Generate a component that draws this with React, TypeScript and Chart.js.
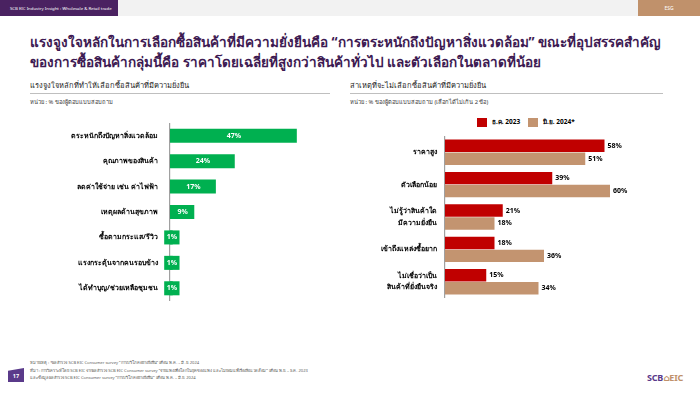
import React, { useEffect, useRef } from "react";
import { Chart, registerables } from "chart.js";

Chart.register(...registerables);

// ---------- DATA ----------
const leftCategories: string[] = [
  "ตระหนักถึงปัญหาสิ่งแวดล้อม",
  "คุณภาพของสินค้า",
  "ลดค่าใช้จ่าย เช่น ค่าไฟฟ้า",
  "เหตุผลด้านสุขภาพ",
  "ซื้อตามกระแส/รีวิว",
  "แรงกระตุ้นจากคนรอบข้าง",
  "ได้ทำบุญ/ช่วยเหลือชุมชน",
];
const leftValues: number[] = [47, 24, 17, 9, 1, 1, 1];

const rightCategories: (string | string[])[] = [
  "ราคาสูง",
  "ตัวเลือกน้อย",
  ["ไม่รู้ว่าสินค้าใด", "มีความยั่งยืน"],
  "เข้าถึงแหล่งซื้อยาก",
  ["ไม่เชื่อว่าเป็น", "สินค้าที่ยั่งยืนจริง"],
];
const seriesDec2023: number[] = [58, 39, 21, 18, 15];
const seriesJun2024: number[] = [51, 60, 18, 36, 34];
const seriesNames: string[] = ["ธ.ค. 2023", "มิ.ย. 2024*"];

// ---------- STYLE ----------
const FONT = "'Noto Sans', 'DejaVu Sans', sans-serif";
const PURPLE = "#4a2261";
const TAN = "#c0916b";
const GREEN = "#00b050";
const RED = "#c00000";
const BARTAN = "#c39470";

const valueLabelPlugin = (mode: "inside" | "outside") => ({
  id: "valueLabels" + mode,
  afterDatasetsDraw(chart: any) {
    const ctx = chart.ctx;
    ctx.save();
    ctx.font = `bold 7px ${FONT}`;
    ctx.textBaseline = "middle";
    chart.data.datasets.forEach((ds: any, di: number) => {
      const meta = chart.getDatasetMeta(di);
      meta.data.forEach((bar: any, i: number) => {
        const v = ds.data[i];
        const txt = `${v}%`;
        const w = ctx.measureText(txt).width;
        const x0 = bar.base;
        const x1 = bar.x;
        const y = bar.y;
        const h = bar.height;
        if (mode === "inside") {
          const cx = (x0 + x1) / 2;
          if (x1 - x0 < w + 4) {
            ctx.fillStyle = ds.backgroundColor;
            const bw = w + 5;
            ctx.fillRect(cx - bw / 2 + 0.5, y - h / 2, bw, h);
          }
          ctx.fillStyle = "#ffffff";
          ctx.textAlign = "center";
          ctx.fillText(txt, cx + 0.5, y);
        } else {
          ctx.fillStyle = "#000000";
          ctx.textAlign = "left";
          ctx.fillText(txt, x1 + 3, y);
        }
      });
    });
    ctx.restore();
  },
});

function LeftChart() {
  const ref = useRef<HTMLCanvasElement>(null);
  useEffect(() => {
    const chart = new Chart(ref.current!, {
      type: "bar",
      data: {
        labels: leftCategories,
        datasets: [
          {
            data: leftValues,
            backgroundColor: GREEN,
            barPercentage: 0.95,
            categoryPercentage: 0.58,
          },
        ],
      },
      options: {
        indexAxis: "y",
        responsive: false,
        animation: false,
        layout: { padding: 0 },
        plugins: { legend: { display: false }, tooltip: { enabled: false } },
        scales: {
          x: { display: false, min: 0, max: 63 },
          y: {
            grid: { display: false, drawTicks: false },
            border: { display: true, color: "#a0a0a0", width: 1.2 },
            ticks: {
              color: "#000",
              padding: 12,
              font: { family: FONT, size: 7, weight: "bold" },
            },
            afterFit(scale: any) {
              scale.width = 150;
              scale.paddingTop = 0;
              scale.paddingBottom = 0;
            },
          },
        },
      },
      plugins: [valueLabelPlugin("inside")],
    } as any);
    return () => chart.destroy();
  }, []);
  return (
    <canvas
      ref={ref}
      width={320}
      height={178}
      style={{ position: "absolute", left: 20, top: 123, width: 320, height: 178 }}
    />
  );
}

function RightChart() {
  const ref = useRef<HTMLCanvasElement>(null);
  useEffect(() => {
    const chart = new Chart(ref.current!, {
      type: "bar",
      data: {
        labels: rightCategories,
        datasets: [
          {
            label: seriesNames[0],
            data: seriesDec2023,
            backgroundColor: RED,
            barPercentage: 0.96,
            categoryPercentage: 0.8,
          },
          {
            label: seriesNames[1],
            data: seriesJun2024,
            backgroundColor: BARTAN,
            barPercentage: 0.96,
            categoryPercentage: 0.8,
          },
        ],
      },
      options: {
        indexAxis: "y",
        responsive: false,
        animation: false,
        layout: { padding: 0 },
        plugins: { legend: { display: false }, tooltip: { enabled: false } },
        scales: {
          x: { display: false, min: 0, max: 80 },
          y: {
            grid: { display: false, drawTicks: false },
            border: { display: true, color: "#a0a0a0", width: 1.2 },
            ticks: {
              color: "#000",
              padding: 8,
              font: { family: FONT, size: 7, weight: "bold", lineHeight: 1.6 },
            },
            afterFit(scale: any) {
              scale.width = 100;
              scale.paddingTop = 0;
              scale.paddingBottom = 0;
            },
          },
        },
      },
      plugins: [valueLabelPlugin("outside")],
    } as any);
    return () => chart.destroy();
  }, []);
  return (
    <canvas
      ref={ref}
      width={320}
      height={162}
      style={{ position: "absolute", left: 345, top: 136, width: 320, height: 162 }}
    />
  );
}

const abs = (s: React.CSSProperties): React.CSSProperties => ({ position: "absolute", ...s });

export default function App() {
  useEffect(() => {
    document.body.style.margin = "0";
  }, []);
  return (
    <div
      style={{
        position: "absolute",
        left: 0,
        top: 0,
        width: 700,
        height: 394,
        overflow: "hidden",
        background: "#fff",
        fontFamily: FONT,
      }}
    >
      {/* header */}
      <div style={abs({ left: 0, top: 0, width: 700, height: 16, background: "#f2f2f2" })} />
      <div
        style={abs({
          left: 0,
          top: 0,
          width: 118,
          height: 16,
          background: PURPLE,
          color: "#fff",
          fontSize: 4.3,
          lineHeight: "16px",
          paddingLeft: 10,
          boxSizing: "border-box",
          whiteSpace: "nowrap",
        })}
      >
        SCB EIC Industry Insight : Wholesale &amp; Retail trade
      </div>
      <div
        style={abs({
          left: 638,
          top: 0,
          width: 62,
          height: 16,
          background: TAN,
          color: "#fff",
          fontSize: 5,
          lineHeight: "16px",
          textAlign: "center",
        })}
      >
        ESG
      </div>

      {/* title */}
      <div
        style={abs({
          left: 30,
          top: 33,
          width: 670,
          color: "#3d1a52",
          fontWeight: "bold",
          fontSize: 13.5,
          lineHeight: "19.5px",
          whiteSpace: "nowrap",
        })}
      >
        <div>แรงจูงใจหลักในการเลือกซื้อสินค้าที่มีความยั่งยืนคือ “การตระหนักถึงปัญหาสิ่งแวดล้อม” ขณะที่อุปสรรคสำคัญ</div>
        <div>ของการซื้อสินค้ากลุ่มนี้คือ ราคาโดยเฉลี่ยที่สูงกว่าสินค้าทั่วไป และตัวเลือกในตลาดที่น้อย</div>
      </div>

      {/* left panel heading */}
      <div style={abs({ left: 30, top: 79, fontSize: 7.5, color: "#262626", whiteSpace: "nowrap" })}>
        แรงจูงใจหลักที่ทำให้เลือกซื้อสินค้าที่มีความยั่งยืน
      </div>
      <div style={abs({ left: 30, top: 93, width: 300, height: 1, background: "#bfbfbf" })} />
      <div style={abs({ left: 30, top: 97, fontSize: 5.8, color: "#404040", whiteSpace: "nowrap" })}>
        หน่วย : % ของผู้ตอบแบบสอบถาม
      </div>

      {/* right panel heading */}
      <div style={abs({ left: 350, top: 79, fontSize: 7.5, color: "#262626", whiteSpace: "nowrap" })}>
        สาเหตุที่จะไม่เลือกซื้อสินค้าที่มีความยั่งยืน
      </div>
      <div style={abs({ left: 350, top: 93, width: 313, height: 1, background: "#bfbfbf" })} />
      <div style={abs({ left: 350, top: 97, fontSize: 5.8, color: "#404040", whiteSpace: "nowrap" })}>
        หน่วย : % ของผู้ตอบแบบสอบถาม (เลือกได้ไม่เกิน 2 ข้อ)
      </div>

      {/* legend */}
      <div style={abs({ left: 477, top: 118, width: 10, height: 9, background: RED })} />
      <div style={abs({ left: 492, top: 117, fontSize: 6.5, fontWeight: "bold", color: "#000", whiteSpace: "nowrap" })}>
        {seriesNames[0]}
      </div>
      <div style={abs({ left: 528, top: 118, width: 10, height: 9, background: BARTAN })} />
      <div style={abs({ left: 543, top: 117, fontSize: 6.5, fontWeight: "bold", color: "#000", whiteSpace: "nowrap" })}>
        {seriesNames[1]}
      </div>

      <LeftChart />
      <RightChart />

      {/* footer */}
      <div
        style={abs({
          left: 8,
          top: 368,
          width: 16,
          height: 14,
          background: "#5a3a8a",
          clipPath: "polygon(0 20%, 100% 0, 100% 100%, 0 100%)",
          color: "#fff",
          fontSize: 5.5,
          fontWeight: "bold",
          lineHeight: "16px",
          textAlign: "center",
        })}
      >
        17
      </div>
      <div style={abs({ left: 30, top: 359, fontSize: 4.1, color: "#595959", lineHeight: "7.5px", whiteSpace: "nowrap" })}>
        <div>หมายเหตุ : *ผลสำรวจ SCB EIC Consumer survey “การบริโภคอย่างยั่งยืน” เดือน พ.ค. – มิ.ย. 2024</div>
        <div>
          ที่มา : การวิเคราะห์โดย SCB EIC จากผลสำรวจ SCB EIC Consumer survey “จ่ายแพงเพื่อโลกในยุคของแพง และไม่ยอมแพ้เรื่องสิ่งแวดล้อม” เดือน พ.ย. – ธ.ค. 2023
        </div>
        <div>และข้อมูลผลสำรวจ SCB EIC Consumer survey “การบริโภคอย่างยั่งยืน” เดือน พ.ค. – มิ.ย. 2024</div>
      </div>
      <div style={abs({ left: 647, top: 371, fontSize: 9, fontWeight: "bold", whiteSpace: "nowrap", letterSpacing: -0.2 })}>
        <span style={{ color: "#5a3a8a" }}>SCB</span>
        <span style={{ color: TAN }}>⌂EIC</span>
      </div>
    </div>
  );
}
